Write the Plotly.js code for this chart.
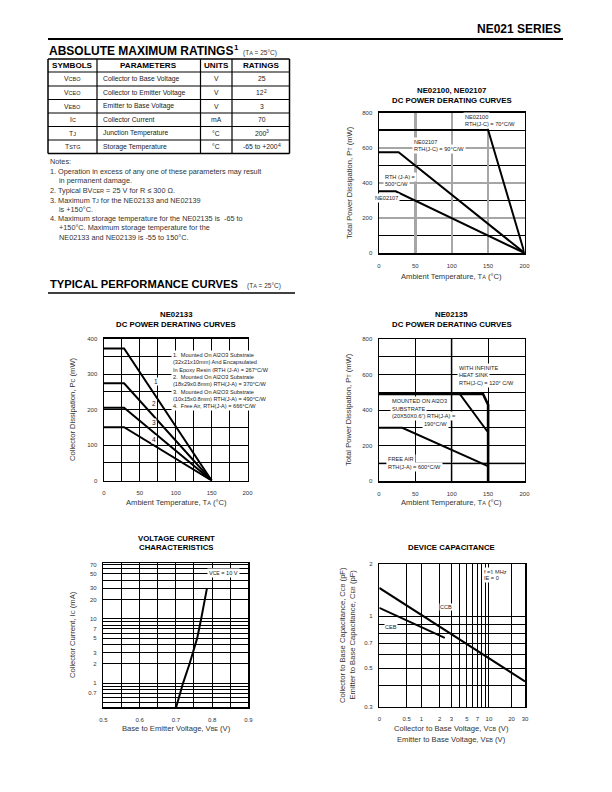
<!DOCTYPE html>
<html><head><meta charset="utf-8">
<script src="https://cdn.plot.ly/plotly-3.0.1.min.js"></script>
<style>html,body{margin:0;padding:0;background:#fff}#chart{width:612px;height:792px}</style>
</head><body><div id="chart"></div>
<script>
// ================= DATA =================
// Absolute maximum ratings table
const tableHeaders = ['SYMBOLS', 'PARAMETERS', 'UNITS', 'RATINGS'];
const tableSymbols = ['V<span style="font-size:5.5px">CBO</span>', 'V<span style="font-size:5.5px">CEO</span>', 'V<span style="font-size:5.5px">EBO</span>', 'I<span style="font-size:5.5px">C</span>', 'T<span style="font-size:5.5px">J</span>', 'T<span style="font-size:5.5px">STG</span>'];
const tableParameters = ['Collector to Base Voltage', 'Collector to Emitter Voltage', 'Emitter to Base Voltage', 'Collector Current', 'Junction Temperature', 'Storage Temperature'];
const tableUnits = ['V', 'V', 'V', 'mA', '°C', '°C'];
const tableRatings = ['25', '12', '3', '70', '200', '-65 to +200'];
const tableRatingNotes = ['', '2', '', '', '3', '4'];

const notesLines = [
  ['Notes:', 0],
  ['1. Operation in excess of any one of these parameters may result', 0],
  ['in permanent damage.', 1],
  ['2. Typical BV<span style="font-size:5.5px">CER</span> = 25 V for R ≤ 300 Ω.', 0],
  ['3. Maximum T<span style="font-size:5.5px">J</span> for the NE02133 and NE02139', 0],
  ['is +150°C.', 1],
  ['4. Maximum storage temperature for the NE02135 is  -65 to', 0],
  ['+150°C. Maximum storage temperature for the', 1],
  ['NE02133 and NE02139 is -55 to 150°C.', 1]
];

// Chart A : NE02100, NE02107 DC power derating
const aNe02100Ta = [0, 150, 200];
const aNe02100Pt = [700, 700, 0];
const aNe02107JcTa = [0, 27, 200];
const aNe02107JcPt = [574, 574, 0];
const aNe02107JaTa = [0, 23, 200];
const aNe02107JaPt = [351, 351, 0];
const aTempTicks = [0, 50, 100, 150, 200];
const aPowerTicks = [0, 200, 400, 600, 800];
const aPowerMinor = [100, 300, 500, 700];

// Chart B : NE02133 DC power derating
const bTa = [0, 28, 150];
const bCurve1 = [372, 372, 0];
const bCurve2 = [274, 274, 0];
const bCurve3 = [205, 205, 0];
const bCurve4 = [150, 150, 0];
const bTempTicks = [0, 50, 100, 150, 200];
const bTempMinor = [25, 75, 125, 175];
const bPowerTicks = [0, 100, 200, 300, 400];
const bPowerMinor = [50, 150, 250, 350];
const bLegendLines = [
  '1.  Mounted On Al2O3 Substrate',
  '(32x21x10mm) And Encapsulated',
  'In Epoxy Resin (RTH (J-A) = 267°C/W',
  '2.  Mounted On Al2O3 Substrate',
  '(18x29x0.8mm) RTH(J-A) = 370°C/W',
  '3.  Mounted On Al2O3 Substrate',
  '(10x15x0.8mm) RTH(J-A) = 490°C/W',
  '4.  Free Air, RTH(J-A) = 666°C/W'
];

// Chart C : NE02135 DC power derating
const cSinkTa = [0, 143, 150, 150];
const cSinkPt = [490, 490, 430, 0];
const cAl2o3Ta = [0, 111, 149];
const cAl2o3Pt = [490, 490, 279];
const cFreeAirTa = [0, 32, 149];
const cFreeAirPt = [300, 300, 85];
const cTempTicks = [0, 50, 100, 150, 200];
const cPowerTicks = [0, 200, 400, 600, 800];
const cPowerMinor = [100, 300, 500, 700];

// Chart D : Voltage current characteristics
const dVbe = [0.701, 0.720, 0.738, 0.748, 0.759, 0.770, 0.780, 0.786];
const dIc = [0.42, 1, 2, 3, 5, 10, 20, 30];
const dVbeTicks = [0.5, 0.6, 0.7, 0.8, 0.9];
const dVbeMinor = [0.55, 0.65, 0.75, 0.85];
const dIcTicks = [0.7, 1, 2, 3, 5, 7, 10, 20, 30, 50, 70];
const dIcMinor = [0.5, 0.6, 0.8, 0.9, 4, 6, 8, 9, 40, 60];

// Chart E : Device capacitance
const CAP_OFFSET = 0.4; // x scale is log(V + 0.4 V)
const eCcbV = [0, 30];
const eCcbC = [1.46, 0.42];
const eCebV = [0, 2.4];
const eCebC = [1.12, 0.75];
const eVTicks = [0, 0.5, 1, 2, 3, 5, 7, 10, 20, 30];
const eVMinor = [4, 6, 8, 9];
const eCTicks = [0.3, 0.5, 0.7, 1, 2];
const eCMinor = [0.4, 0.6, 0.8, 0.9];

// ================= LAYOUT HELPERS =================
const W = 612, H = 792;
const X = p => p / W;
const Y = p => 1 - p / H;
const SANS = 'Liberation Sans, Arial, Helvetica, sans-serif';
const TXT = '#222';
const meas = document.createElement('canvas').getContext('2d');
function tw(text, size, weight) {
  meas.font = (weight === 'bold' ? 'bold ' : '') + size + 'px "Liberation Sans", Arial, sans-serif';
  return meas.measureText(text).width;
}

const annotations = [];
const shapes = [];
function txt(x, y, text, o) {
  o = o || {};
  annotations.push({
    xref: 'paper', yref: 'paper', x: X(x), y: Y(y), text: text, showarrow: false,
    xanchor: o.xa || 'left', yanchor: o.ya || 'middle', align: o.align || 'left',
    textangle: o.angle || 0,
    font: {family: SANS, size: o.size || 7, color: o.color || TXT, weight: o.weight || 'normal'},
    bgcolor: o.bg || 'rgba(0,0,0,0)', borderpad: o.pad === undefined ? 1 : o.pad
  });
}
function block(x, ys, lines, o) { lines.forEach((t, i) => txt(x, ys[i], t, o)); }
function line(x0, y0, x1, y1, w, c) {
  shapes.push({type: 'line', xref: 'paper', yref: 'paper', x0: X(x0), y0: Y(y0), x1: X(x1), y1: Y(y1),
    line: {color: c || '#000', width: w || 1}});
}
// base text followed by a raised, smaller note number (drawn as two texts)
function withSup(xLeft, y, base, sup, size, supSize, weight, color) {
  txt(xLeft, y, base, {size: size, weight: weight, color: color, pad: 0});
  if (sup) txt(xLeft + tw(base, size, weight) + 0.3, y - size * 0.32, sup, {size: supSize, weight: weight, color: color, pad: 0});
}

// ---- page header ----
txt(563, 28.5, 'NE021 SERIES', {xa: 'right', size: 12, weight: 'bold', color: '#000'});
line(48, 39, 563, 39, 2.2);

// ---- Absolute maximum ratings ----
withSup(48, 51.5, 'ABSOLUTE MAXIMUM RATINGS', '1', 12, 8, 'bold', '#000');
txt(241, 53, '(T<span style="font-size:5.5px">A</span> = 25°C)', {size: 6.5, color: '#333'});

const colX = [48, 97, 200.5, 232, 289.5];
const rowY = [59, 72, 86, 99.5, 113, 126.5, 140, 153.5];
rowY.forEach((y, i) => line(colX[0], y, colX[4], y, (i === 0 || i === rowY.length - 1) ? 1.5 : 1.2));
colX.forEach((x, i) => line(x, rowY[0], x, rowY[rowY.length - 1], (i === 0 || i === colX.length - 1) ? 1.5 : 1.2));
tableHeaders.forEach((h, i) => txt((colX[i] + colX[i + 1]) / 2, (rowY[0] + rowY[1]) / 2, h, {xa: 'center', size: 8.1, weight: 'bold', color: '#000'}));
for (let r = 0; r < tableSymbols.length; r++) {
  const cy = (rowY[r + 1] + rowY[r + 2]) / 2;
  txt((colX[0] + colX[1]) / 2, cy, tableSymbols[r], {xa: 'center', size: 6.8});
  txt(colX[1] + 4, cy, tableParameters[r], {size: 6.8});
  txt((colX[2] + colX[3]) / 2, cy, tableUnits[r], {xa: 'center', size: 6.8});
  const total = tw(tableRatings[r], 6.8) + (tableRatingNotes[r] ? tw(tableRatingNotes[r], 5) + 0.3 : 0);
  withSup((colX[3] + colX[4]) / 2 - total / 2, cy, tableRatings[r], tableRatingNotes[r], 6.8, 5, 'normal', TXT);
}

// ---- notes ----
const noteY = [161, 171.5, 180.5, 191, 200.5, 209.5, 219, 228, 237];
notesLines.forEach((n, i) => txt(n[1] ? 57 : 47.5, noteY[i], n[0], {size: 7.3, color: '#333'}));

// ---- typical performance curves heading ----
txt(47.5, 284, 'TYPICAL PERFORMANCE CURVES', {size: 11.2, weight: 'bold', color: '#000'});
txt(245, 285.5, '(T<span style="font-size:5.5px">A</span> = 25°C)', {size: 6.5, color: '#333'});
line(48, 293, 295, 293, 1.5);

// ---- chart titles ----
function ctitle(cx, y, t) { txt(cx, y, t, {xa: 'center', size: 7.8, weight: 'bold', color: '#000'}); }
ctitle(451.5, 90.5, 'NE02100, NE02107');
ctitle(451.5, 100.5, 'DC POWER DERATING CURVES');
ctitle(176, 314.5, 'NE02133');
ctitle(176, 324.5, 'DC POWER DERATING CURVES');
ctitle(451.5, 314.5, 'NE02135');
ctitle(451.5, 324.5, 'DC POWER DERATING CURVES');
ctitle(176, 538.5, 'VOLTAGE CURRENT');
ctitle(176, 547.5, 'CHARACTERISTICS');
ctitle(451.5, 547.5, 'DEVICE CAPACITANCE');

// ---- axis titles ----
const sm = s => '<span style="font-size:5.5px">' + s + '</span>';
function xtitle(cx, y, t) { txt(cx, y, t, {xa: 'center', size: 7.6, color: '#333'}); }
function ytitle(x, cy, t) { txt(x, cy, t, {xa: 'center', angle: -90, size: 7.6, color: '#333'}); }
xtitle(451.5, 277, 'Ambient Temperature, T' + sm('A') + ' (°C)');
ytitle(349, 183, 'Total Power Dissipation, P' + sm('T') + ' (mW)');
xtitle(176, 502, 'Ambient Temperature, T' + sm('A') + ' (°C)');
ytitle(72, 409, 'Collector Dissipation, P' + sm('C') + ' (mW)');
xtitle(451.5, 502, 'Ambient Temperature, T' + sm('A') + ' (°C)');
ytitle(349, 410, 'Total Power Dissipation, P' + sm('T') + ' (mW)');
xtitle(176, 728.5, 'Base to Emitter Voltage, V' + sm('BE') + ' (V)');
ytitle(72, 635, 'Collector Current, I' + sm('C') + ' (mA)');
xtitle(451.5, 728.5, 'Collector to Base Voltage, V' + sm('CB') + ' (V)');
xtitle(451.5, 739, 'Emitter to Base Voltage, V' + sm('EB') + ' (V)');
ytitle(342, 635, 'Collector to Base Capacitance, C' + sm('CB') + ' (pF)');
ytitle(351.5, 635, 'Emitter to Base Capacitance, C' + sm('EB') + ' (pF)');

// ---- in-chart notes (one annotation per line) ----
const W0 = 'rgba(255,255,255,1)';
const NS = 5.6;
const note = {size: NS, bg: W0, pad: 1};
block(463, [117, 124], ['NE02100', 'RTH(J-C) = 70°C/W'], note);
block(411.5, [141.7, 148.5], ['NE02107', 'RTH(J-C) = 90°C/W'], note);
block(382.5, [177.3, 184.3], ['RTH (J-A) =', '500°C/W'], note);
txt(373, 197.5, 'NE02107', note);

block(171, [355, 362.3, 369.6, 376.9, 384.2, 391.5, 398.8, 406.1], bLegendLines, note);
txt(156, 381, '1', {xa: 'center', size: 6.5, bg: W0, pad: 0});
txt(154, 403, '2', {xa: 'center', size: 6.5, bg: W0, pad: 0});
txt(154, 422.5, '3', {xa: 'center', size: 6.5, bg: W0, pad: 0});
txt(154, 439, '4', {xa: 'center', size: 6.5, bg: W0, pad: 0});

block(457, [367.5, 375, 382.7], ['WITH INFINITE', 'HEAT SINK', 'RTH(J-C) = 120° C/W'], note);
block(390, [401, 408.5, 416], ['MOUNTED ON Al2O3', 'SUBSTRATE', '(20X50X0.6") RTH(J-A) ='], note);
txt(435, 423.5, '190°C/W', {xa: 'center', size: NS, bg: W0, pad: 1});
block(386, [459.5, 466.5], ['FREE AIR', 'RTH(J-A) = 600°C/W'], note);

txt(223, 573, 'V<span style="font-size:5px">CE</span> = 10 V', {xa: 'center', size: NS, bg: W0, pad: 1});
block(482, [571.5, 578.3], ['f =1 MHz', 'IE = 0'], note);
txt(446, 607, 'CCB', {xa: 'center', size: NS, bg: W0, pad: 0});
txt(391, 627, 'CEB', {xa: 'center', size: NS, bg: W0, pad: 0});

// ================= AXES =================
function ax(extra, minorVals) {
  const a = Object.assign({
    showline: true, mirror: true, linecolor: '#000', linewidth: 1.5, ticks: '',
    zeroline: false, showgrid: true, gridcolor: '#000', gridwidth: 1,
    tickfont: {family: SANS, size: 6, color: '#333'}, fixedrange: true,
    tickmode: 'array', ticklabelstandoff: 4
  }, extra);
  if (minorVals) a.minor = {tickmode: 'array', tickvals: minorVals, showgrid: true, gridcolor: '#000', gridwidth: 1, ticks: ''};
  return a;
}
const dom = (a, b) => [a / W, b / W];
const vdom = (top, bot) => [1 - bot / H, 1 - top / H];
const lab = arr => arr.map(String);

const layout = {
  width: W, height: H, margin: {l: 0, r: 0, t: 0, b: 0},
  paper_bgcolor: '#fff', plot_bgcolor: '#fff', showlegend: false,
  // A
  xaxis: ax({domain: dom(379, 524.5), anchor: 'y', range: [0, 200], tickvals: aTempTicks, ticktext: lab(aTempTicks), gridcolor: '#a6a6a6', gridwidth: 2.5, ticklabelstandoff: 6}),
  yaxis: ax({domain: vdom(112.5, 253), anchor: 'x', range: [0, 800], tickvals: aPowerTicks, ticktext: lab(aPowerTicks), gridcolor: '#a6a6a6', gridwidth: 2}, aPowerMinor),
  // B
  xaxis2: ax({domain: dom(104, 247.5), anchor: 'y2', range: [0, 200], tickvals: bTempTicks, ticktext: lab(bTempTicks), ticklabelstandoff: 6}, bTempMinor),
  yaxis2: ax({domain: vdom(338.5, 480.5), anchor: 'x2', range: [0, 400], tickvals: bPowerTicks, ticktext: lab(bPowerTicks)}, bPowerMinor),
  // C
  xaxis3: ax({domain: dom(379, 524.5), anchor: 'y3', range: [0, 200], tickvals: cTempTicks, ticktext: lab(cTempTicks), ticklabelstandoff: 6}),
  yaxis3: ax({domain: vdom(339, 481), anchor: 'x3', range: [0, 800], tickvals: cPowerTicks, ticktext: lab(cPowerTicks)}, cPowerMinor),
  // D
  xaxis4: ax({domain: dom(103.3, 248.3), anchor: 'y4', range: [0.5, 0.9], tickvals: dVbeTicks, ticktext: lab(dVbeTicks), ticklabelstandoff: 6}, dVbeMinor),
  yaxis4: ax({domain: vdom(563.3, 707.3), anchor: 'x4', type: 'log', range: [Math.log10(0.42), Math.log10(73)], tickvals: dIcTicks, ticktext: lab(dIcTicks)}, dIcMinor),
  // E
  xaxis5: ax({domain: dom(379.3, 525), anchor: 'y5', type: 'log', range: [Math.log10(0 + CAP_OFFSET), Math.log10(30 + CAP_OFFSET)],
    tickvals: eVTicks.map(v => v + CAP_OFFSET), ticktext: lab(eVTicks), ticklabelstandoff: 6}, eVMinor.map(v => v + CAP_OFFSET)),
  yaxis5: ax({domain: vdom(564.3, 706.7), anchor: 'x5', type: 'log', range: [Math.log10(0.3), Math.log10(2)], tickvals: eCTicks, ticktext: lab(eCTicks)}, eCMinor),
  annotations: annotations,
  shapes: shapes.concat([
    {type: 'line', xref: 'x3', yref: 'y3 domain', x0: 100, x1: 100, y0: 0, y1: 1, layer: 'below', line: {color: '#a6a6a6', width: 2.5}},
    {type: 'line', xref: 'x3 domain', yref: 'y3', x0: 0, x1: 1, y0: 100, y1: 100, layer: 'below', line: {color: '#a6a6a6', width: 2.5}}
  ])
};

const L = (x, y, xa, ya, w) => ({type: 'scatter', mode: 'lines', x: x, y: y, xaxis: xa, yaxis: ya,
  line: {color: '#000', width: w || 2}, hoverinfo: 'skip'});

const data = [
  L(aNe02100Ta, aNe02100Pt, 'x', 'y'),
  L(aNe02107JcTa, aNe02107JcPt, 'x', 'y'),
  L(aNe02107JaTa, aNe02107JaPt, 'x', 'y'),
  L(bTa, bCurve1, 'x2', 'y2'),
  L(bTa, bCurve2, 'x2', 'y2'),
  L(bTa, bCurve3, 'x2', 'y2'),
  L(bTa, bCurve4, 'x2', 'y2'),
  L(cSinkTa, cSinkPt, 'x3', 'y3', 2.6),
  L(cAl2o3Ta, cAl2o3Pt, 'x3', 'y3'),
  L(cFreeAirTa, cFreeAirPt, 'x3', 'y3'),
  L(dVbe, dIc, 'x4', 'y4'),
  L(eCcbV.map(v => v + CAP_OFFSET), eCcbC, 'x5', 'y5'),
  L(eCebV.map(v => v + CAP_OFFSET), eCebC, 'x5', 'y5')
];

Plotly.newPlot('chart', data, layout, {staticPlot: true, displayModeBar: false});
</script>
</body></html>
